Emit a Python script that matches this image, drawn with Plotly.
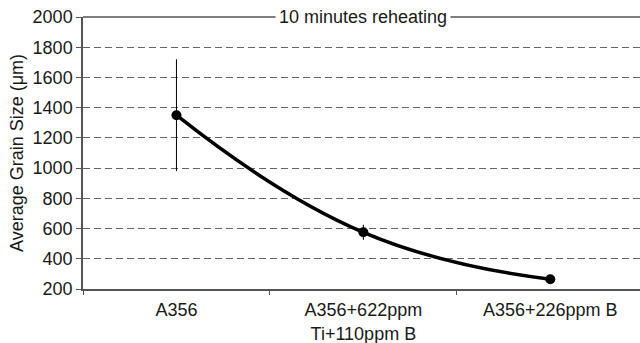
import plotly.graph_objects as go

categories = ["A356", "A356+622ppm<br>Ti+110ppm B", "A356+226ppm B"]
grain_size = [1350, 575, 265]
error = [370, 50, 0]
y_ticks = [200, 400, 600, 800, 1000, 1200, 1400, 1600, 1800, 2000]
title_text = "10 minutes reheating"

fig = go.Figure()
fig.add_trace(go.Scatter(
    x=categories, y=grain_size,
    mode="lines+markers",
    line=dict(color="black", width=3.5, shape="spline", smoothing=1.3),
    marker=dict(color="black", size=10),
    error_y=dict(type="data", array=error, visible=True, color="black", thickness=1, width=0),
    showlegend=False,
))

fig.update_layout(
    width=640, height=343,
    margin=dict(l=83, r=0, t=17, b=54),
    paper_bgcolor="white", plot_bgcolor="white",
    font=dict(family="Liberation Sans, Arial, sans-serif", size=18, color="#1a1a1a"),
    xaxis=dict(
        type="category", range=[-0.5, 2.48], automargin=False,
        tickson="boundaries", ticks="outside", ticklen=4, tickcolor="#555",
        showline=True, linecolor="#555", linewidth=1.5,
        showgrid=False, tickfont=dict(size=18), ticklabelstandoff=4,
    ),
    yaxis=dict(
        range=[200, 2000], tickvals=y_ticks, automargin=False,
        ticks="outside", ticklen=5, tickcolor="#555",
        showline=True, linecolor="#555", linewidth=1.5, mirror=False,
        showgrid=True, gridcolor="#666", griddash="7px,4px", gridwidth=1,
        zeroline=False,
        title=dict(text="Average Grain Size (μm)", font=dict(size=18), standoff=4),
        tickfont=dict(size=18),
    ),
    shapes=[dict(type="line", xref="paper", yref="paper", x0=0, x1=1, y0=1, y1=1,
                 line=dict(color="#555", width=1.5))],
    annotations=[dict(
        text=title_text, x=1, xref="x", y=1, yref="paper",
        xanchor="center", yanchor="middle", showarrow=False,
        bgcolor="white", borderpad=3, font=dict(size=18),
    )],
)

fig.write_html("out.html", config={"displayModeBar": False},
               post_script="document.body.style.margin='0';")
